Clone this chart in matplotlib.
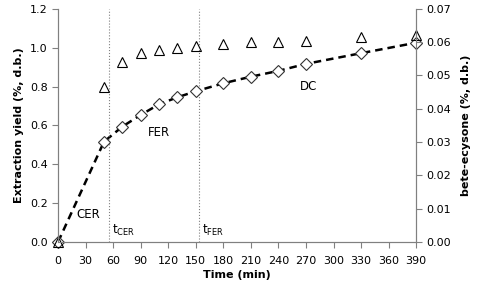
import matplotlib
matplotlib.use("Agg")
import matplotlib.pyplot as plt

# extraction yield (diamonds, left axis)
time_yield = [0, 50, 70, 90, 110, 130, 150, 180, 210, 240, 270, 330, 390]
yield_pct = [0.0, 0.516, 0.594, 0.654, 0.709, 0.745, 0.776, 0.817, 0.851, 0.881, 0.917, 0.972, 1.026]

# beta-ecdysone (triangles, right axis)
time_ecd = [0, 50, 70, 90, 110, 130, 150, 180, 210, 240, 270, 330, 390]
ecd_pct = [0.0, 0.0465, 0.0540, 0.0569, 0.0577, 0.0584, 0.0589, 0.0596, 0.0602, 0.0602, 0.0603, 0.0617, 0.0622]

t_cer = 56
t_fer = 154

grey = "#808080"
plt.rcParams["font.family"] = "DejaVu Sans"
plt.rcParams["font.size"] = 8

fig = plt.figure(figsize=(4.8, 2.88), dpi=100)
ax = fig.add_axes([0.121, 0.160, 0.746, 0.809])
ax2 = ax.twinx()

ax.plot(time_yield, yield_pct, "--", color="black", lw=1.8, dashes=(3, 2), zorder=2)
ax.plot(time_yield, yield_pct, "D", ms=6.3, mfc="white", mec="#333333", mew=0.8, ls="none", zorder=3)
ax2.plot(time_ecd, ecd_pct, "^", ms=7.5, mfc="none", mec="black", mew=0.8, ls="none")

ax.axvline(t_cer, color=grey, lw=0.8, ls=":")
ax.axvline(t_fer, color=grey, lw=0.8, ls=":")

ax.set_xlim(0, 390)
ax.set_ylim(0, 1.2)
ax2.set_ylim(0, 0.07)
ax.set_xticks(range(0, 391, 30))
ax.set_yticks([0, 0.2, 0.4, 0.6, 0.8, 1.0, 1.2])
ax.set_yticklabels(["0.0", "0.2", "0.4", "0.6", "0.8", "1.0", "1.2"])
ax2.set_yticks([0, 0.01, 0.02, 0.03, 0.04, 0.05, 0.06, 0.07])
ax2.set_yticklabels(["0.00", "0.01", "0.02", "0.03", "0.04", "0.05", "0.06", "0.07"])

for a in (ax, ax2):
    a.spines["top"].set_visible(False)
    for s in ("left", "right", "bottom"):
        a.spines[s].set_color(grey)
    a.tick_params(colors=grey, labelcolor="black", length=4, width=0.8)
ax.tick_params(axis="x", pad=6)

ax.set_xlabel("Time (min)", fontweight="bold", labelpad=3)
ax.set_ylabel("Extraction yield (%, d.b.)", fontweight="bold")
ax2.set_ylabel("bete-ecysone (%, d.b.)", fontweight="bold", labelpad=7)

ax.text(20, 0.139, "CER", fontsize=8.5, va="center")
ax.text(98, 0.566, "FER", fontsize=8.5, va="center")
ax.text(263, 0.803, "DC", fontsize=8.5, va="center")
ax.text(t_cer + 3, 0.058, r"t$_{\mathregular{CER}}$", fontsize=8.5, va="center")
ax.text(t_fer + 3, 0.058, r"t$_{\mathregular{FER}}$", fontsize=8.5, va="center")

for line in ax.lines + ax2.lines:
    line.set_clip_on(False)

fig.savefig("out.png", dpi=100)
